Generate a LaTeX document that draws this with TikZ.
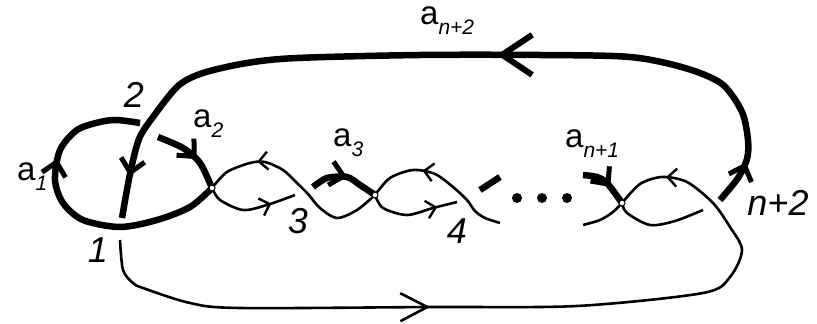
\documentclass[tikz,border=0pt]{standalone}
\usepackage{fontspec}
\setmainfont{Liberation Sans}
\usepackage{tikz}
\usetikzlibrary{arrows.meta,decorations.markings,positioning}
\newcommand{\asub}[1]{a\raisebox{-10pt}{\fontsize{21}{21}\selectfont\itshape #1}}

\begin{document}
\begin{tikzpicture}[x=1pt,y=1pt,
  strand/.style={line width=2.6pt,line join=round},
  heavy/.style={line width=6.5pt,line join=round},
  vertex/.style={circle,draw,fill=white,line width=1pt,inner sep=0pt,minimum size=6pt},
  num/.style={font=\fontsize{36}{36}\selectfont\itshape,inner sep=0pt},
  lab/.style={font=\fontsize{33}{33}\selectfont,inner sep=0pt,anchor=base west},
  thinarrow/.style={postaction={decorate,decoration={markings,mark=at position #1 with {\arrow{Straight Barb[length=9pt,width=18pt,line width=2.4pt]}}}}},
  thickarrow/.style={postaction={decorate,decoration={markings,mark=at position #1 with {\arrow{Straight Barb[length=13pt,width=24pt,line width=5pt]}}}}},
  bigarrow/.style={postaction={decorate,decoration={markings,mark=at position #1 with {\arrow{Straight Barb[length=30pt,width=40pt,line width=6pt]}}}}},
  longarrow/.style={postaction={decorate,decoration={markings,mark=at position #1 with {\arrow{Straight Barb[length=27pt,width=28pt,line width=2.6pt]}}}}}]
\useasboundingbox (0,0) rectangle (817,324);

% the three vertices
\coordinate (v1) at (212,136);
\coordinate (v2) at (375,129);
\coordinate (vn) at (622,121);

% outer thick strand: n+2 -> top -> down to 1
\draw[heavy,thickarrow=46pt,bigarrow=362pt,thickarrow=790pt] plot[smooth] coordinates {(720,124) (738,146) (747,165) (748,184) (742,212) (722,240) (685,256) (630,267) (540,269) (420,269) (297,266) (247,261) (203,251) (178,238) (153,207) (139,185) (130,150) (122,106)};
% loop a_1 and a_2
\draw[heavy,thickarrow=213pt] plot[smooth] coordinates {(v1) (190,117) (157,104) (120,97) (83,104) (63,121) (55,144) (60,174) (77,194) (100,202) (117,204) (140,201)};
\draw[heavy,thickarrow=45pt] plot[smooth] coordinates {(158,187) (183,176) (200,161) (v1)};
% bottom thin strand
\draw[strand,longarrow=348pt,thinarrow=795pt] plot[smooth] coordinates {(120,84) (123,54) (133,41) (143,36) (190,21) (240,16) (432,17) (577,18) (703,31) (730,47) (742,74) (730,97) (713,121) (687,142) (662,147) (640,140) (vn)};

% first twist
\draw[strand,thinarrow=146pt] plot[smooth] coordinates {(v2) (357,114) (337,106) (320,116) (308,130) (297,141) (283,154) (265,162) (250,161) (227,152) (v1)};
\draw[strand,thinarrow=69pt] plot[smooth] coordinates {(v1) (220,124) (243,114) (267,119) (295,129)};
\draw[heavy,thickarrow=37pt] plot[smooth] coordinates {(313,137) (327,146) (347,147) (360,139) (v2)};

% second twist
\draw[strand,thinarrow=96pt] plot[smooth] coordinates {(500,101) (485,106) (475,113) (467,124) (453,137) (435,150) (413,154) (390,146) (v2)};
\draw[strand,thinarrow=72pt] plot[smooth] coordinates {(v2) (383,116) (407,109) (433,116) (457,122)};
\draw[heavy] (480,134) -- (500,147);
\foreach \x in {517,542,567} \fill (\x,126) circle[radius=5pt];

% last twist
\draw[heavy,thickarrow=31pt] plot[smooth] coordinates {(583,149) (597,147) (607,141) (vn)};
\draw[strand] plot[smooth] coordinates {(583,99) (600,104) (613,112) (vn)};
\draw[strand] plot[smooth] coordinates {(vn) (627,111) (650,99) (675,103) (703,114)};

\foreach \v in {v1,v2,vn} \node[vertex] (dot-\v) at (\v) {};

% labels
\node[num] (c1) at (98,74) {1};
\node[num] (c2) at (134,229) {2};
\node[num] (c3) at (298,103) {3};
\node[num] (c4) at (457,93) {4};
\node[num] (cn) at (778,121) {n+2};
\node[lab] (a1) at (17,143) {\asub{1}};
\node[lab] (a2) at (193,196) {\asub{2}};
\node[lab] (a3) at (333,177) {\asub{3}};
\node[lab] (an1) at (565,176) {\asub{n+1}};
\node[lab] (an2) at (420,299) {\asub{n+2}};
\end{tikzpicture}
\end{document}
